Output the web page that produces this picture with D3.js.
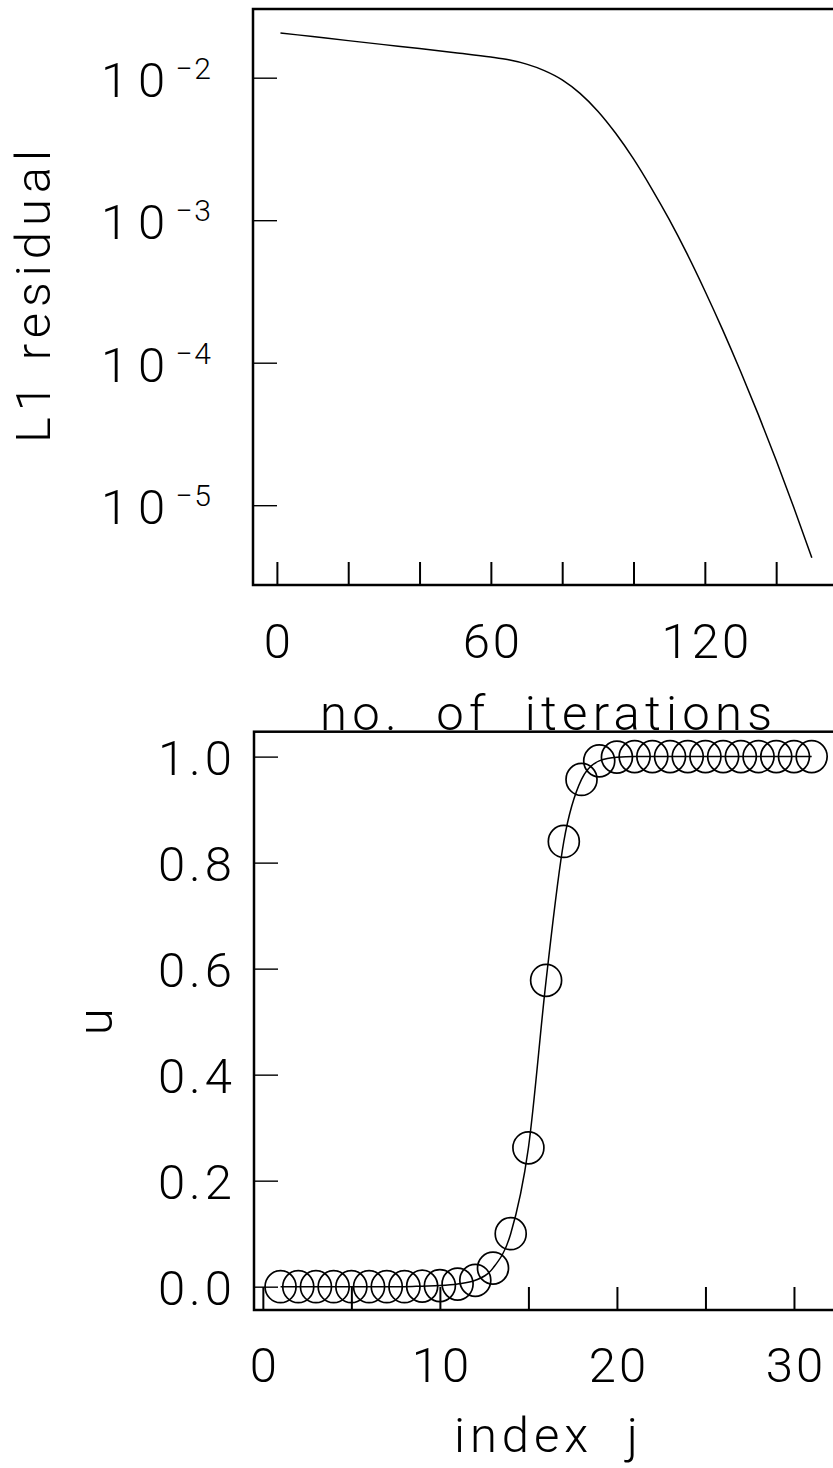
<!DOCTYPE html>
<html>
<head>
<meta charset="utf-8">
<script src="https://cdn.jsdelivr.net/npm/d3@7"></script>
<style>
  html, body { margin: 0; padding: 0; background: #fff; }
  svg { display: block; }
  text { font-family: Roboto, "DejaVu Sans", sans-serif; font-weight: 300; fill: #000; }
</style>
</head>
<body>
<script>
// Convergence history: L1 residual against iteration count
const iterations = [1, 10, 20, 30, 40, 50, 60, 65, 70, 75, 80, 85, 90, 95, 100,
                    105, 110, 115, 120, 125, 130, 135, 140, 145, 150];
const residual = [2.061e-2, 1.943e-2, 1.820e-2, 1.706e-2, 1.600e-2, 1.496e-2, 1.396e-2, 1.334e-2,
                  1.245e-2, 1.122e-2, 9.66e-3, 7.76e-3, 5.82e-3, 4.07e-3, 2.69e-3,
                  1.68e-3, 1.012e-3, 5.82e-4, 3.20e-4, 1.70e-4, 8.71e-5, 4.32e-5, 2.07e-5,
                  9.55e-6, 4.27e-6];
const iterTicks = [0, 20, 40, 60, 80, 100, 120, 140];
const iterLabels = [0, 60, 120];
const residualTicks = [1e-2, 1e-3, 1e-4, 1e-5];
const residualExponents = [-2, -3, -4, -5];

// Converged profile u_j across the grid
const indexJ = d3.range(1, 32);
const uValues = [0.000, 0.000, 0.000, 0.000, 0.000, 0.000, 0.000, 0.000, 0.001, 0.002,
                 0.005, 0.012, 0.035, 0.100, 0.262, 0.578, 0.840, 0.957, 0.992, 0.999,
                 1.000, 1.000, 1.000, 1.000, 1.000, 1.000, 1.000, 1.000, 1.000, 1.000, 1.000];
const jTicks = [0, 5, 10, 15, 20, 25, 30];
const jLabels = [0, 10, 20, 30];
const uTicks = [0, 0.2, 0.4, 0.6, 0.8, 1.0];

const W = 833, H = 1468;
const svg = d3.select("body").append("svg").attr("width", W).attr("height", H);

const FS = 49;

// ---------- upper panel ----------
const boxA = { left: 253, right: 840, top: 9, bottom: 585 };
const xIt = d3.scaleLinear().domain([-6.7, 157.9]).range([boxA.left, boxA.right]);
const yRes = d3.scaleLog().domain([Math.pow(10, -1.518), Math.pow(10, -5.56)]).range([boxA.top, boxA.bottom]);

const gTop = svg.append("g");

gTop.append("rect")
  .attr("x", boxA.left).attr("y", boxA.top)
  .attr("width", boxA.right - boxA.left).attr("height", boxA.bottom - boxA.top)
  .attr("fill", "none").attr("stroke", "#000").attr("stroke-width", 2.5);

const axTopX = gTop.append("g")
  .attr("transform", `translate(0,${boxA.bottom})`)
  .call(d3.axisBottom(xIt).tickValues(iterTicks).tickSize(-23)
        .tickFormat(d => iterLabels.includes(d) ? String(d) : ""));
axTopX.select(".domain").remove();
axTopX.selectAll(".tick line").attr("stroke", "#000").attr("stroke-width", 2);
axTopX.selectAll(".tick text")
  .attr("y", 73).attr("dy", 0).attr("font-size", FS)
  .attr("letter-spacing", 3).attr("dx", 1.5);
axTopX.attr("font-family", null).attr("font-size", null);

const axTopY = gTop.append("g")
  .attr("transform", `translate(${boxA.left},0)`)
  .call(d3.axisLeft(yRes).tickValues(residualTicks).tickSize(-24).tickFormat(""));
axTopY.select(".domain").remove();
axTopY.selectAll(".tick line").attr("stroke", "#000").attr("stroke-width", 1.4);

// power-of-ten labels
const expLabels = gTop.append("g").selectAll("text")
  .data(residualTicks.map((v, i) => ({ v, e: residualExponents[i] })))
  .join("text")
  .attr("x", 213)
  .attr("y", d => yRes(d.v) + 19)
  .attr("text-anchor", "end")
  .attr("font-size", FS);
expLabels.append("tspan").attr("letter-spacing", 10).text("10");
expLabels.append("tspan")
  .attr("dx", 0).attr("dy", -18).attr("font-size", 30)
  .attr("letter-spacing", 2)
  .text(d => "\u2212" + Math.abs(d.e));

const resLine = d3.line()
  .x((d, i) => xIt(iterations[i]))
  .y(d => yRes(d))
  .curve(d3.curveMonotoneX);

gTop.append("path")
  .datum(residual)
  .attr("d", resLine)
  .attr("fill", "none").attr("stroke", "#000").attr("stroke-width", 1.5);

gTop.append("text")
  .attr("transform", `translate(50,296.5) rotate(-90)`)
  .attr("text-anchor", "middle")
  .attr("font-size", FS)
  .attr("textLength", 293).attr("lengthAdjust", "spacing")
  .text("L1 residual");

gTop.append("text")
  .attr("x", 320).attr("y", 730)
  .attr("font-size", FS)
  .attr("xml:space", "preserve").style("white-space", "pre")
  .attr("textLength", 452).attr("lengthAdjust", "spacing")
  .text("no.  of  iterations");

// ---------- lower panel ----------
const boxB = { left: 254, right: 840, top: 731.7, bottom: 1310 };
const xJ = d3.scaleLinear().domain([-0.5, 32.6]).range([boxB.left, boxB.right]);
const yU = d3.scaleLinear().domain([-0.044, 1.047]).range([boxB.bottom, boxB.top]);

const gBot = svg.append("g");

gBot.append("rect")
  .attr("x", boxB.left).attr("y", boxB.top)
  .attr("width", boxB.right - boxB.left).attr("height", boxB.bottom - boxB.top)
  .attr("fill", "none").attr("stroke", "#000").attr("stroke-width", 2.5);

const axBotX = gBot.append("g")
  .attr("transform", `translate(0,${boxB.bottom})`)
  .call(d3.axisBottom(xJ).tickValues(jTicks).tickSize(-23)
        .tickFormat(d => jLabels.includes(d) ? String(d) : ""));
axBotX.select(".domain").remove();
axBotX.selectAll(".tick line").attr("stroke", "#000").attr("stroke-width", 2);
axBotX.selectAll(".tick text")
  .attr("y", 72).attr("dy", 0).attr("font-size", FS)
  .attr("letter-spacing", 3).attr("dx", 1.5);
axBotX.attr("font-family", null).attr("font-size", null);

const axBotY = gBot.append("g")
  .attr("transform", `translate(${boxB.left},0)`)
  .call(d3.axisLeft(yU).tickValues(uTicks).tickSize(-24).tickPadding(18)
        .tickFormat(d3.format(".1f")));
axBotY.select(".domain").remove();
axBotY.selectAll(".tick line").attr("stroke", "#000").attr("stroke-width", 1.4);
axBotY.selectAll(".tick text")
  .attr("dy", "0.36em").attr("font-size", FS)
  .attr("letter-spacing", 4);
axBotY.attr("font-family", null).attr("font-size", null);

const uLine = d3.line()
  .x((d, i) => xJ(indexJ[i]))
  .y(d => yU(d))
  .curve(d3.curveMonotoneX);

gBot.append("path")
  .datum(uValues)
  .attr("d", uLine)
  .attr("fill", "none").attr("stroke", "#000").attr("stroke-width", 1.5);

gBot.append("g").selectAll("ellipse")
  .data(uValues)
  .join("ellipse")
  .attr("cx", (d, i) => xJ(indexJ[i]))
  .attr("cy", d => yU(d))
  .attr("rx", 15.5).attr("ry", 16)
  .attr("fill", "none").attr("stroke", "#000").attr("stroke-width", 1.7);

gBot.append("text")
  .attr("transform", `translate(112,1021.7) rotate(-90)`)
  .attr("text-anchor", "middle")
  .attr("font-size", FS)
  .text("u");

gBot.append("text")
  .attr("x", 454).attr("y", 1452)
  .attr("font-size", FS)
  .attr("xml:space", "preserve").style("white-space", "pre")
  .attr("textLength", 184).attr("lengthAdjust", "spacing")
  .text("index  j");
</script>
</body>
</html>
